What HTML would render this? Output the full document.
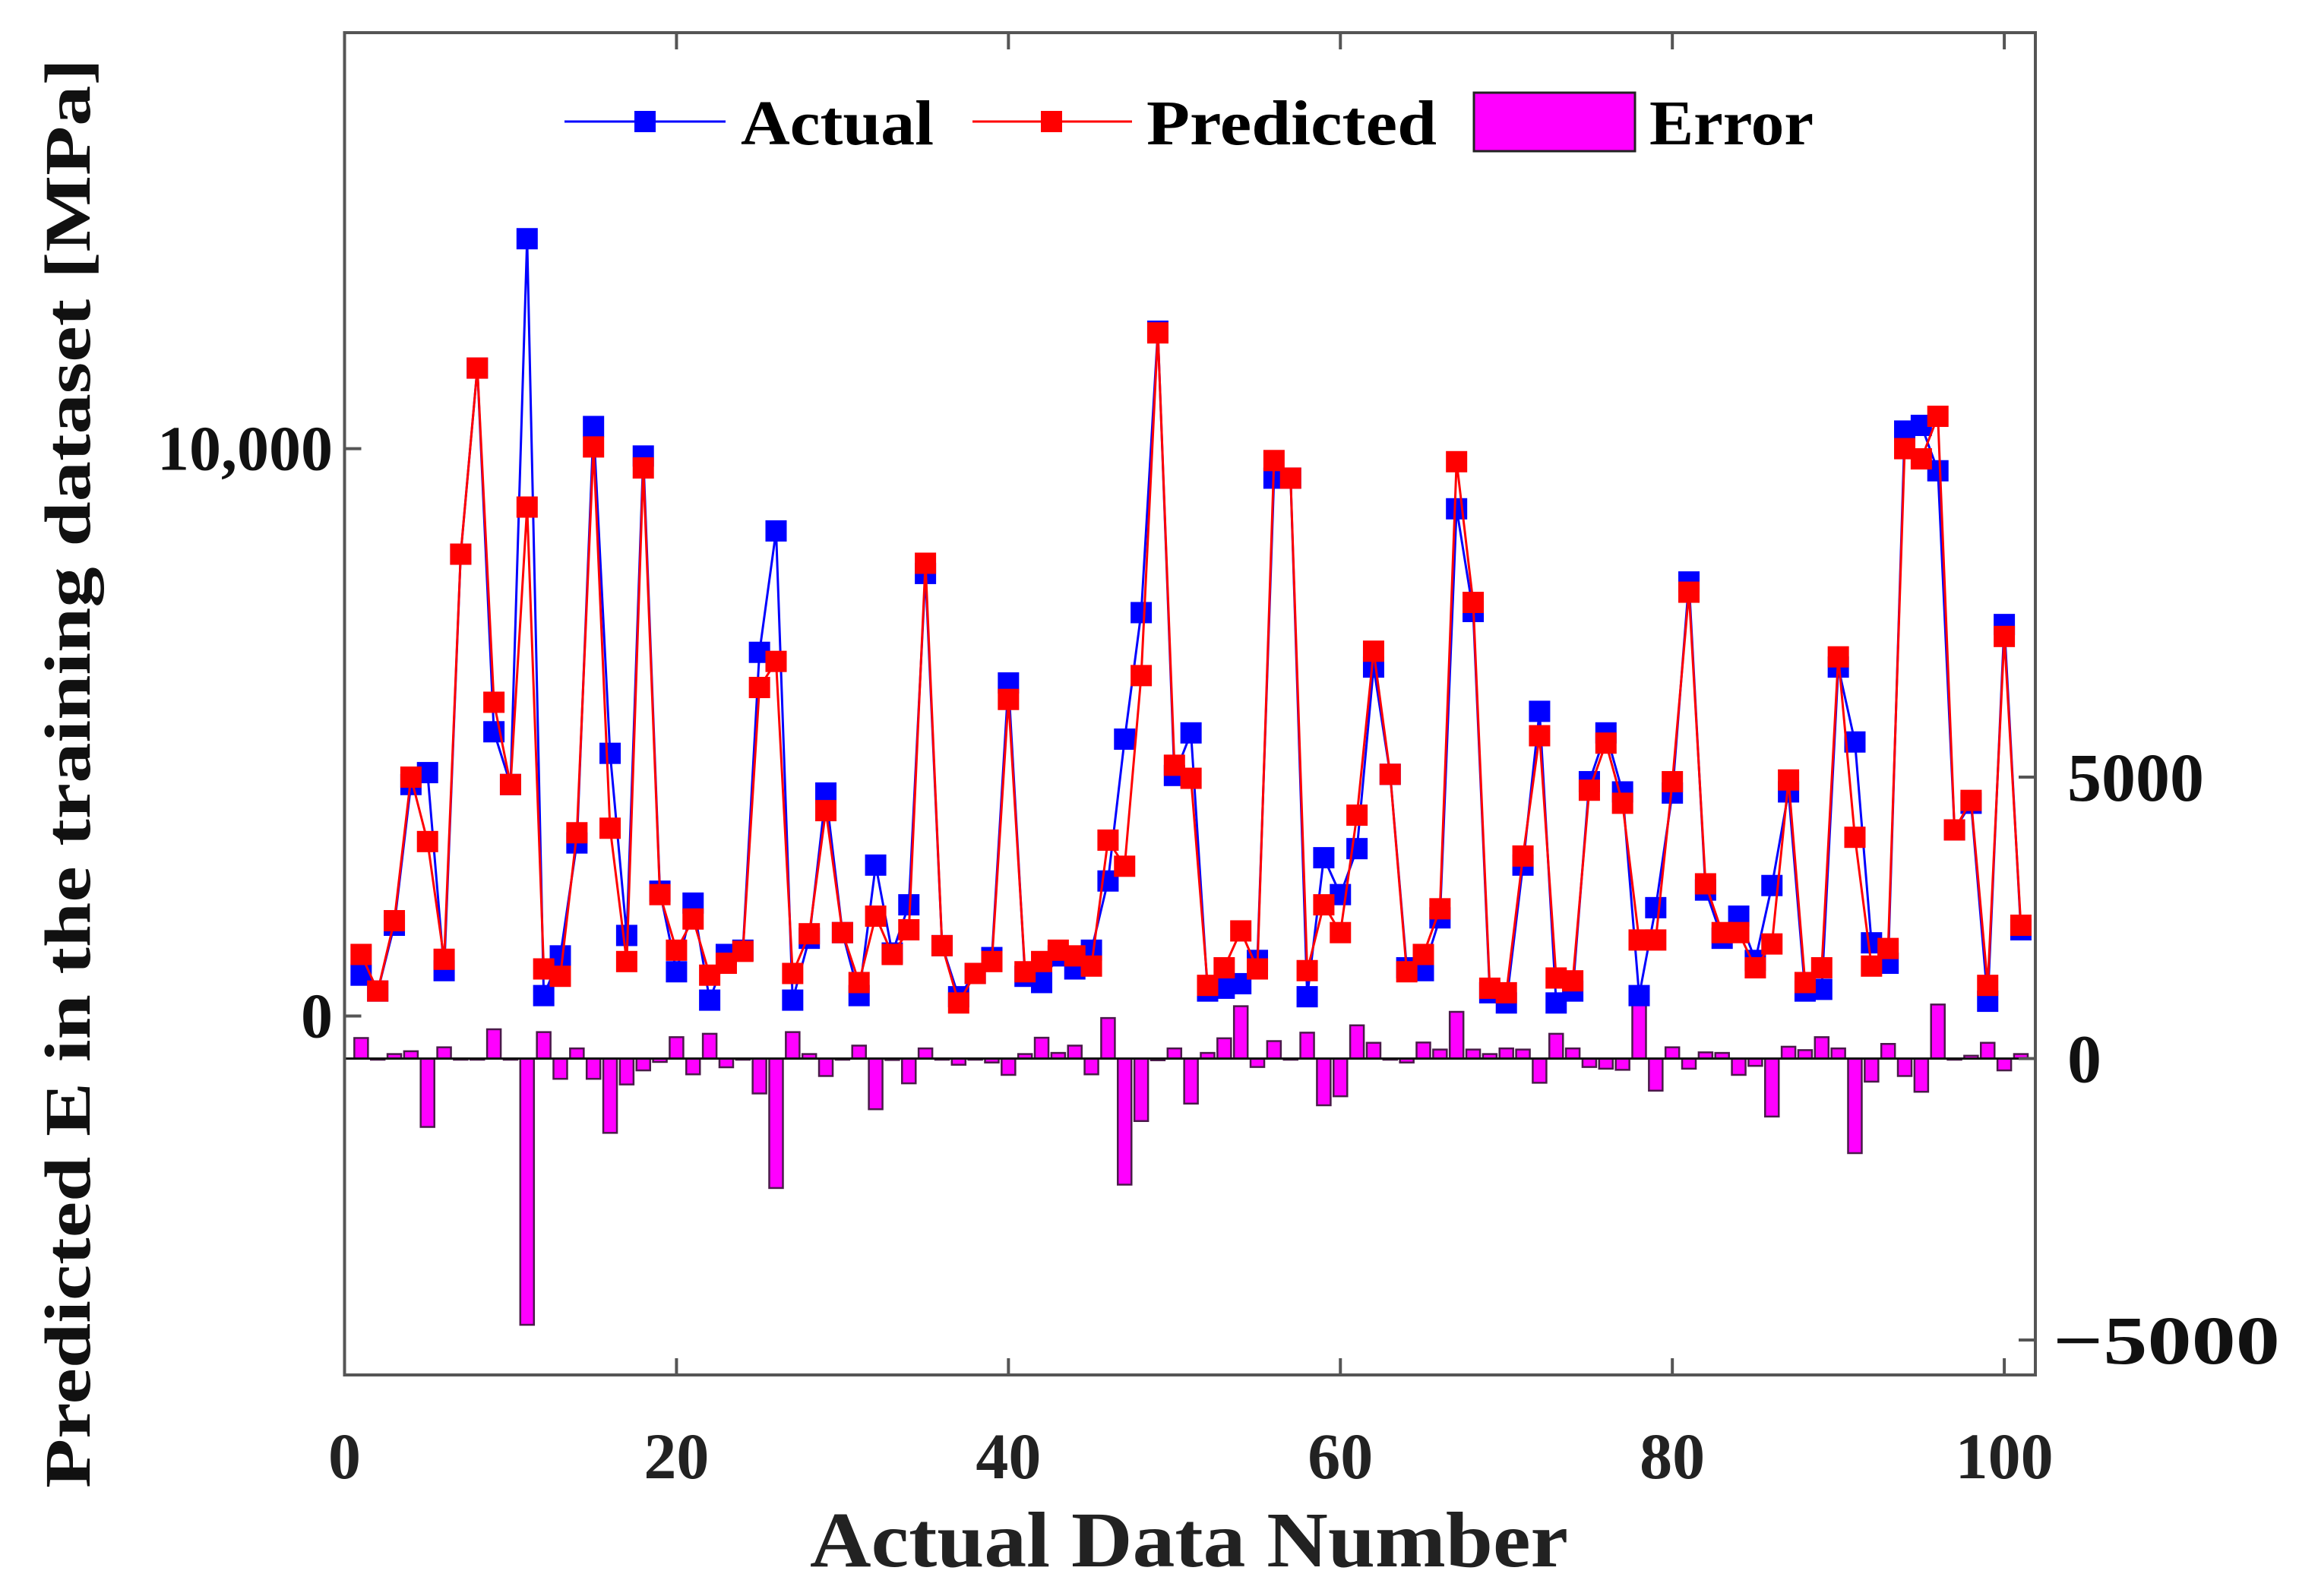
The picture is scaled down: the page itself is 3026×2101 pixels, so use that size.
<!DOCTYPE html>
<html><head><meta charset="utf-8"><title>Predicted E in the training dataset</title>
<style>html,body{margin:0;padding:0;background:#fff;}svg{display:block;}</style></head>
<body>
<svg id="chart" width="3026" height="2101" viewBox="0 0 3026 2101" xmlns="http://www.w3.org/2000/svg" font-family="'Liberation Serif', serif" font-weight="bold">
<rect x="0" y="0" width="3026" height="2101" fill="#fff"/>
<g id="bars"></g>
<g id="lines"></g>
<g id="axes"></g>
<g id="legend">
  <line x1="743" y1="160" x2="955" y2="160" stroke="#0000ff" stroke-width="3"/>
  <rect x="835" y="146" width="28" height="28" fill="#0000ff"/>
  <text x="975" y="190" font-size="84" textLength="254" lengthAdjust="spacingAndGlyphs">Actual</text>
  <line x1="1280" y1="160" x2="1490" y2="160" stroke="#ff0000" stroke-width="3"/>
  <rect x="1370" y="146" width="28" height="28" fill="#ff0000"/>
  <text x="1509" y="190" font-size="84" textLength="382" lengthAdjust="spacingAndGlyphs">Predicted</text>
  <rect x="1940" y="122" width="212" height="77" fill="#ff00ff" stroke="#222" stroke-width="3"/>
  <text x="2171" y="190" font-size="84" textLength="216" lengthAdjust="spacingAndGlyphs">Error</text>
</g>
<text x="1565" y="2062" font-size="104" text-anchor="middle" textLength="998" lengthAdjust="spacingAndGlyphs" fill="#222">Actual Data Number</text>
<text transform="translate(118,1018) rotate(-90)" x="0" y="0" font-size="86" text-anchor="middle" textLength="1882" lengthAdjust="spacingAndGlyphs" fill="#111">Predicted E in the training dataset [MPa]</text>
<script>
const indices = Array.from({length:101},(_,i)=>i+1);
const actual = [720,440,1600,4080,4290,800,8140,11420,5010,4080,13700,360,1060,3050,10390,4630,1420,9870,2200,780,1990,280,1085,1160,6410,8550,280,1370,3930,1470,360,2660,1110,1960,7800,1240,340,750,1030,5870,700,590,1060,830,1160,2380,4880,7110,12070,4240,4990,440,490,570,980,9480,9480,340,2790,2140,2950,6150,4260,850,800,1730,8940,7130,410,230,2660,5370,230,440,4130,4990,3950,360,1910,3930,7650,2220,1370,1760,980,2300,3950,440,470,6150,4830,1290,930,10310,10410,9610,3280,3750,260,6900,1520];
const predicted = [1085,440,1680,4210,3075,1000,8140,11420,5530,4080,8970,830,700,3230,10030,3310,960,9660,2140,1160,1710,720,930,1140,5790,6250,750,1450,3620,1470,590,1760,1085,1520,7980,1240,230,750,960,5580,780,960,1160,1060,880,3100,2640,6000,12040,4420,4190,540,850,1500,830,9790,9480,800,1960,1470,3540,6430,4260,780,1085,1890,9770,7290,490,410,2820,4940,670,620,3980,4810,3750,1340,1340,4130,7470,2330,1470,1470,850,1270,4160,590,850,6330,3150,880,1190,10000,9820,10570,3280,3800,540,6690,1600];
const xTicks = [0,20,40,60,80,100];
const yLeftTicks = [0,10000];
const yLeftLabels = ["0","10,000"];
const yRightTicks = [-5000,0,5000];
const yRightLabels = ["\u22125000","0","5000"];

const NS="http://www.w3.org/2000/svg";
const L=453.5,R=2679,T=43,B=1810;
const xS=v=>453.5+v*21.846;
const yL=v=>1337.5-v*0.07469;
const yR=v=>1393.5-v*0.0741;
function mk(tag,attrs,parent){const e=document.createElementNS(NS,tag);for(const k in attrs)e.setAttribute(k,attrs[k]);parent.appendChild(e);return e;}

const bars=document.getElementById('bars');
indices.forEach((d,i)=>{
  const err=predicted[i]-actual[i];
  const y0=yR(0),y1=yR(err);
  const r=mk('rect',{x:xS(d)-9,y:Math.min(y0,y1),width:18,height:Math.max(Math.abs(y1-y0),1.5),fill:'#ff00ff',stroke:'#4a1a4a','stroke-width':2.5},bars);
  
  
});
const base=mk('line',{x1:L,x2:R,y1:yR(0),y2:yR(0),stroke:'#111','stroke-width':3},bars);



const lines=document.getElementById('lines');
function series(vals,color,name){
  const pts=indices.map((d,i)=>xS(d).toFixed(1)+','+yL(vals[i]).toFixed(1)).join(' ');
  const pl=mk('polyline',{points:pts,fill:'none',stroke:color,'stroke-width':3},lines);
  
  
  indices.forEach((d,i)=>{
    const m=mk('rect',{x:xS(d)-14,y:yL(vals[i])-14,width:28,height:28,fill:color},lines);
    
    
  });
}
series(actual,'#0000ff','actual');
series(predicted,'#ff0000','predicted');

const axes=document.getElementById('axes');
const frame=mk('rect',{x:L,y:T,width:R-L,height:B-T,fill:'none',stroke:'#555','stroke-width':4},axes);


xTicks.forEach(v=>{
  const x=xS(v);
  const t1=mk('line',{x1:x,x2:x,y1:B,y2:B-22,stroke:'#555','stroke-width':4},axes);
  
  
  const t2=mk('line',{x1:x,x2:x,y1:T,y2:T+22,stroke:'#555','stroke-width':4},axes);
  
  
  const tx=mk('text',{x:x,y:1946,'font-size':86,'text-anchor':'middle',fill:'#222'},axes);
  tx.textContent=String(v);
  
  
});
yLeftTicks.forEach((v,i)=>{
  const y=yL(v);
  const t=mk('line',{x1:L,x2:L+22,y1:y,y2:y,stroke:'#555','stroke-width':4},axes);
  
  
  const tx=mk('text',{x:438,y:y+28,'font-size':84,'text-anchor':'end',fill:'#111'},axes);
  tx.textContent=yLeftLabels[i];
  
  
});
yRightTicks.forEach((v,i)=>{
  const y=yR(v);
  const t=mk('line',{x1:R,x2:R-22,y1:y,y2:y,stroke:'#555','stroke-width':4},axes);
  
  
  const tx=mk('text',{x:v<0?2702:2721,y:y+31,'font-size':90,fill:'#111'},axes);
  if(v<0){tx.setAttribute('textLength','299');tx.setAttribute('lengthAdjust','spacingAndGlyphs');}
  tx.textContent=yRightLabels[i];
  
  
});
</script>
</svg>
</body></html>
